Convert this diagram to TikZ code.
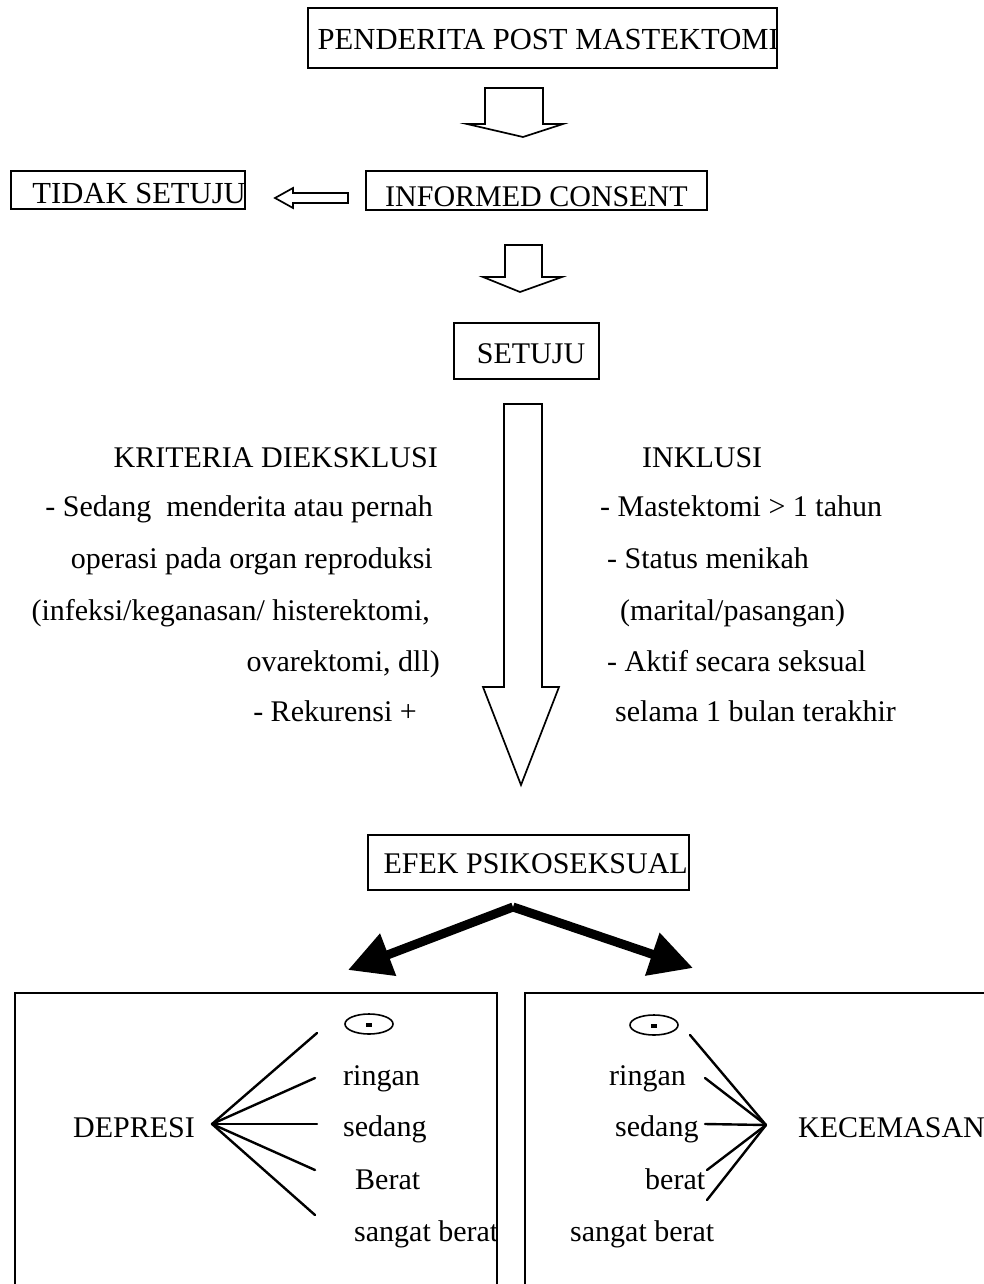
\documentclass[tikz,border=0pt]{standalone}
\usepackage{fontspec}
\setmainfont{Liberation Serif}
\usetikzlibrary{arrows.meta,shapes.geometric}
\begin{document}
\begin{tikzpicture}[x=1pt,y=-1pt,
  txt/.style={inner sep=0pt, font=\fontsize{30}{36}\selectfont},
  frame/.style={draw=black, line width=1.6pt, inner sep=0pt},
  blockarrow/.style={draw=black, line width=1.7pt, fill=white, line join=miter},
  fan/.style={draw=black, line width=2.4pt, line cap=round},
  bigarrow/.style={draw=black, line width=9pt, -{Triangle[length=43pt,width=43pt]}},
  negsign/.style={draw=black, ellipse, line width=1.6pt, minimum width=48pt, minimum height=20pt, inner sep=0pt}]
\useasboundingbox (0,0) rectangle (984,1284);

% ---------- boxes ----------
\node[frame, minimum width=469pt, minimum height=60pt] (bpend) at (542.5,38) {};
\node[txt, anchor=base east, font=\fontsize{30.6}{36}\selectfont] (tpend) at (779,50) {PENDERITA POST MASTEKTOMI};

\node[frame, minimum width=234pt, minimum height=38pt] (btidak) at (128,190) {};
\node[txt, anchor=base east, font=\fontsize{30.6}{36}\selectfont] (ttidak) at (246,204) {TIDAK SETUJU};

\node[frame, minimum width=341pt, minimum height=39pt] (binf) at (536.5,190.5) {};
\node[txt, anchor=base west] (tinf) at (385,206) {INFORMED CONSENT};

\node[frame, minimum width=145pt, minimum height=56pt] (bset) at (526.5,351) {};
\node[txt, anchor=base] (tset) at (531,363) {SETUJU};

\node[frame, minimum width=321pt, minimum height=55pt] (befek) at (528.5,862.5) {};
\node[txt, anchor=base east] (tefek) at (688,873) {EFEK PSIKOSEKSUAL};

% ---------- block arrows ----------
\draw[blockarrow] (485,88) -- (543,88) -- (543,124) -- (563,124) -- (523,137)
  -- (467,124) -- (485,124) -- cycle;
\draw[blockarrow] (505,245) -- (542,245) -- (542,277) -- (562,277) -- (520,292)
  -- (483,277) -- (505,277) -- cycle;
\draw[blockarrow] (348,193) -- (293,193) -- (293,188) -- (275,198) -- (293,208)
  -- (293,203) -- (348,203) -- cycle;
\draw[blockarrow] (504,404) -- (542,404) -- (542,687) -- (559,687) -- (521,785)
  -- (483,687) -- (504,687) -- cycle;

% ---------- criteria ----------
\node[txt, anchor=base east] (kr0) at (438,467) {KRITERIA DIEKSKLUSI};
\node[txt, anchor=base east] (kr1) at (433,516) {- Sedang\ \ menderita atau pernah};
\node[txt, anchor=base east] (kr2) at (433,568) {operasi pada organ reproduksi};
\node[txt, anchor=base east] (kr3) at (430,620) {(infeksi/keganasan/ histerektomi,};
\node[txt, anchor=base east] (kr4) at (440,671) {ovarektomi, dll)};
\node[txt, anchor=base east] (kr5) at (417,721) {- Rekurensi +};

\node[txt, anchor=base west] (in0) at (642,467) {INKLUSI};
\node[txt, anchor=base west] (in1) at (600,516) {- Mastektomi > 1 tahun};
\node[txt, anchor=base west] (in2) at (607,568) {- Status menikah};
\node[txt, anchor=base west] (in3) at (620,620) {(marital/pasangan)};
\node[txt, anchor=base west] (in4) at (607,671) {- Aktif secara seksual};
\node[txt, anchor=base west] (in5) at (615,721) {selama 1 bulan terakhir};

% ---------- thick arrows ----------
\coordinate (split) at (513,907);
\coordinate (ltip) at (348,970);
\coordinate (rtip) at (693,968);
\draw[bigarrow] (split) -- (ltip);
\draw[bigarrow] (split) -- (rtip);

% ---------- bottom boxes ----------
\draw[draw=black, line width=1.8pt] (15,1284) -- (15,993) -- (497,993) -- (497,1284);
\draw[draw=black, line width=1.8pt] (525,1284) -- (525,993) -- (984,993);

% ---------- depresi ----------
\node[txt, anchor=base west] (dep) at (73,1137) {DEPRESI};
\coordinate (dapex) at (212,1124);
\node[negsign] (dneg) at (369,1024) {};
\fill (dneg.center) ++(-3,-1) rectangle ++(6,3.5);
\node[txt, anchor=base west] (dring) at (343,1085) {ringan};
\node[txt, anchor=base west] (dsed) at (343,1136) {sedang};
\node[txt, anchor=base west] (dber) at (355,1189) {Berat};
\node[txt, anchor=base west] (dsang) at (354,1241) {sangat berat};
\coordinate (d1) at (317,1033);
\coordinate (d2) at (315,1078);
\coordinate (d3) at (317,1124);
\coordinate (d4) at (315,1170);
\coordinate (d5) at (315,1215);
\foreach \e in {d1,d2,d3,d4,d5} \draw[fan] (dapex) -- (\e);

% ---------- kecemasan ----------
\node[txt, anchor=base west] (kec) at (798,1137) {KECEMASAN};
\coordinate (kapex) at (766,1125);
\node[negsign] (kneg) at (654,1025) {};
\fill (kneg.center) ++(-3,-1) rectangle ++(6,3.5);
\node[txt, anchor=base west] (kring) at (609,1085) {ringan};
\node[txt, anchor=base west] (ksed) at (615,1136) {sedang};
\node[txt, anchor=base west] (kber) at (645,1189) {berat};
\node[txt, anchor=base west] (ksang) at (570,1241) {sangat berat};
\coordinate (k1) at (690,1035);
\coordinate (k2) at (705,1078);
\coordinate (k3) at (705,1124);
\coordinate (k4) at (707,1170);
\coordinate (k5) at (707,1200);
\foreach \e in {k1,k2,k3,k4,k5} \draw[fan] (kapex) -- (\e);
\end{tikzpicture}
\end{document}
